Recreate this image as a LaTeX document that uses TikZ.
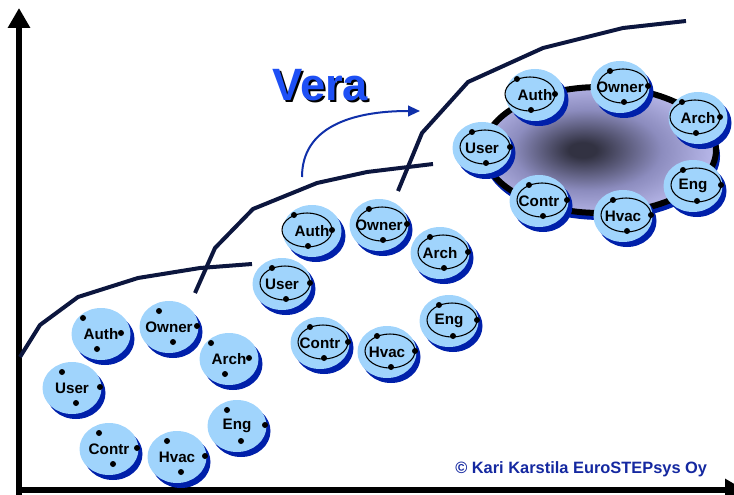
\documentclass[tikz,border=0pt]{standalone}
\usepackage{fontspec}
\setmainfont{Liberation Sans}
\usetikzlibrary{arrows.meta}

\definecolor{bubfill}{RGB}{160,212,252}
\definecolor{bubdark}{RGB}{0,32,170}
\definecolor{curvenavy}{RGB}{12,22,62}
\definecolor{verablue}{RGB}{30,80,245}
\definecolor{arrowblue}{RGB}{16,48,170}
\definecolor{copyblue}{RGB}{20,40,160}
\definecolor{hubdark}{RGB}{50,50,66}
\definecolor{hubmid}{RGB}{140,140,190}
\definecolor{hublight}{RGB}{198,198,248}
\pgfdeclareradialshading{hubshading}{\pgfpoint{-4bp}{0bp}}{color(0bp)=(hubdark); color(3bp)=(hubdark); color(16bp)=(hubmid); color(30bp)=(hublight); color(50bp)=(hublight)}

\tikzset{
	ringdx/.store in=\ringdx, ringdx=3,
	ringpen/.style={},
	withring/.style={ringpen/.style={draw, line width=0.8pt}},
	bubtext/.style={font=\fontsize{11.4}{12}\selectfont\bfseries, inner sep=0pt},
	bubble/.pic={
		\fill[bubdark] (4,5) ellipse [x radius=29.5, y radius=26];
		\fill[bubfill] (0,0) ellipse [x radius=29.5, y radius=26];
		\path[ringpen] (\ringdx,-1) ellipse [x radius=25, y radius=17];
		\node[bubtext] (-txt) at (0,0) {#1};
		\fill (\ringdx-13,-16) circle [radius=3];
		\fill (\ringdx+25,-1) circle [radius=3];
		\fill (\ringdx+1,15) circle [radius=3];
	},
	trend/.style={curvenavy, line width=3pt, line join=round},
	axis/.style={line width=4.8pt, >={Triangle[length=15pt,width=16pt]}},
	veraarrow/.style={arrowblue, line width=1.5pt, >={Triangle[length=9pt,width=8pt]}},
	veratext/.style={font=\fontsize{34}{36}\selectfont\bfseries, inner sep=0pt, anchor=base west},
	copytext/.style={copyblue, font=\fontsize{12.3}{14}\selectfont\bfseries, inner sep=0pt, anchor=base west},
}

\begin{document}
\begin{tikzpicture}[x=0.75pt, y=-0.75pt]
	\useasboundingbox (0,0) rectangle (734,495);

	\coordinate (Xo) at (16,490);
	\coordinate (oX) at (745,490);
	\coordinate (Yo) at (19,497);
	\coordinate (oY) at (19,8);
	\coordinate (veraA) at (302,177);
	\coordinate (veraB) at (420,111);
	\coordinate (hub) at (600,150);
	\coordinate (hubS) at (602,156);

	% bubble centres
	\coordinate (Auth1) at (101,334);
	\coordinate (Owner1) at (169,327);
	\coordinate (Arch1) at (229,359);
	\coordinate (User1) at (72,388);
	\coordinate (Eng1) at (237,426);
	\coordinate (Contr1) at (109,449);
	\coordinate (Hvac1) at (177,457);

	\coordinate (Auth2) at (312,231);
	\coordinate (Owner2) at (379,225);
	\coordinate (Arch2) at (440,253);
	\coordinate (User2) at (282,284);
	\coordinate (Eng2) at (449,321);
	\coordinate (Contr2) at (320,343);
	\coordinate (Hvac2) at (387,352);

	\coordinate (Auth3) at (535,95);
	\coordinate (Owner3) at (620,87);
	\coordinate (Arch3) at (698,118);
	\coordinate (User3) at (482,148);
	\coordinate (Eng3) at (693,186);
	\coordinate (Contr3) at (539,201);
	\coordinate (Hvac3) at (623,216);

	\draw [axis, ->] (Yo) -- (oY);
	\draw [axis, ->] (Xo) -- (oX);

	\draw [trend] (20,357) -- (40,325) -- (78,297) -- (138,278) -- (200,268) -- (252,264);
	\draw [trend] (195,293) -- (215,248) -- (253,209) -- (317,183) -- (367,172) -- (433,164);
	\draw [trend] (398,191) -- (422,133) -- (468,82) -- (543,48) -- (623,28) -- (686,21);

	\draw [veraarrow, ->] (veraA) .. controls (302,128) and (350,111) .. (veraB);
	\node [veratext] (verashadow) at (274,103) {Vera};
	\node [veratext, verablue] (vera) at (272,101) {Vera};

	% the shared model
	\fill [bubdark] (hubS) ellipse [x radius=118, y radius=64];
	\shadedraw [shading=hubshading, line width=4.5pt] (hub) ellipse [x radius=116, y radius=63];

	\pic (auth1) [ringdx=-5] at (Auth1) {bubble=Auth};
	\pic (owner1) at (Owner1) {bubble=Owner};
	\pic (arch1) [ringdx=-5] at (Arch1) {bubble=Arch};
	\pic (user1) at (User1) {bubble=User};
	\pic (eng1) at (Eng1) {bubble=Eng};
	\pic (contr1) at (Contr1) {bubble=Contr};
	\pic (hvac1) at (Hvac1) {bubble=Hvac};

	\pic (auth2) [withring, ringdx=-5] at (Auth2) {bubble=Auth};
	\pic (owner2) [withring] at (Owner2) {bubble=Owner};
	\pic (arch2) [withring] at (Arch2) {bubble=Arch};
	\pic (user2) [withring] at (User2) {bubble=User};
	\pic (eng2) [withring] at (Eng2) {bubble=Eng};
	\pic (contr2) [withring] at (Contr2) {bubble=Contr};
	\pic (hvac2) [withring] at (Hvac2) {bubble=Hvac};

	\pic (auth3) [withring, ringdx=-5] at (Auth3) {bubble=Auth};
	\pic (owner3) [withring] at (Owner3) {bubble=Owner};
	\pic (arch3) [withring, ringdx=-3] at (Arch3) {bubble=Arch};
	\pic (user3) [withring] at (User3) {bubble=User};
	\pic (eng3) [withring] at (Eng3) {bubble=Eng};
	\pic (contr3) [withring] at (Contr3) {bubble=Contr};
	\pic (hvac3) [withring] at (Hvac3) {bubble=Hvac};

	\node [copytext] (copy) at (455,473) {© Kari Karstila EuroSTEPsys Oy};

\end{tikzpicture}
\end{document}
